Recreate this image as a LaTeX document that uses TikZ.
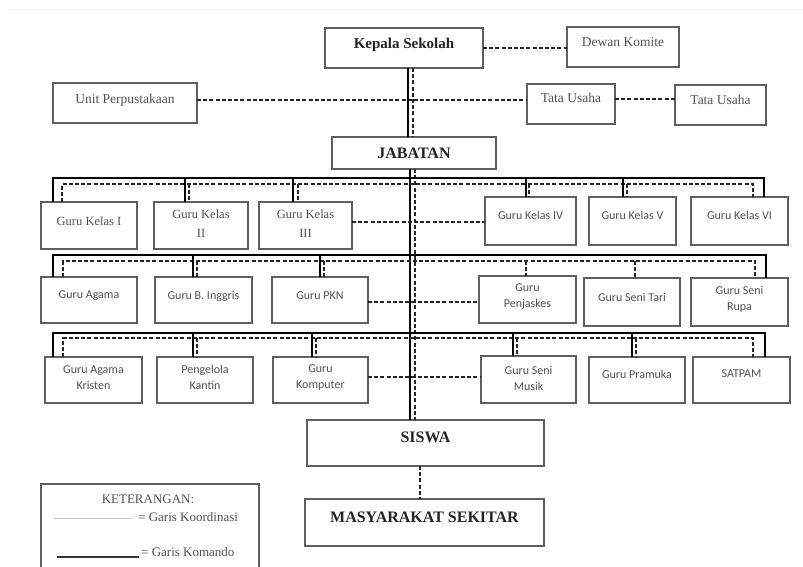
\documentclass[tikz,border=0pt]{standalone}
\usepackage{fontspec}
\setmainfont{Liberation Serif}
\newfontfamily\carlito{Carlito}
\definecolor{boxgray}{RGB}{95,95,95}
\definecolor{txtgray}{RGB}{80,80,80}
\definecolor{txtdark}{RGB}{35,35,35}
\tikzset{
  obox/.style={draw=boxgray, line width=1.3pt, rectangle, inner sep=0pt, outer sep=0pt},
  cmdline/.style={draw=black, line width=1.6pt},
  koordline/.style={draw=black!85, line width=1.4pt, dash pattern=on 4pt off 2.2pt},
  titlefont/.style={font=\bfseries\fontsize{15}{18}\selectfont, text=txtdark},
  bigfont/.style={font=\bfseries\fontsize{16}{19}\selectfont, text=txtdark},
  seriffont/.style={font=\fontsize{13.5}{16}\selectfont, text=txtgray},
  serifsmall/.style={font=\fontsize{12.5}{19}\selectfont, text=txtgray, align=center},
  sansfont/.style={font=\carlito\fontsize{12}{16}\selectfont, text=txtgray, align=center},
}
% name, x1, y1, x2, y2, text style, text shift, text
\newcommand\orgbox[8]{%
  \node[obox, minimum width={#4-#2}, minimum height={#5-#3}] (#1) at ({(#2+#4)/2},{(#3+#5)/2}) {};
  \node[#6, inner sep=0pt] (#1-t) at ([yshift=#7pt]#1.center) {#8};
}
\begin{document}
\begin{tikzpicture}[x=1pt, y=-1pt]
\useasboundingbox (0,0) rectangle (803,566);
\draw[gray!12, line width=0.8pt] (8,9) -- (803,9);

% top level
\orgbox{kep}{325}{28}{483}{68}{titlefont}{3}{Kepala Sekolah}
\orgbox{dew}{567}{27}{679}{67}{seriffont}{5}{Dewan Komite}
\orgbox{up}{53}{83}{197}{123}{seriffont}{3}{Unit Perpustakaan}
\orgbox{tu1}{527}{84}{615}{124}{seriffont}{6}{Tata Usaha}
\orgbox{tu2}{675}{85}{766}{125}{seriffont}{5}{Tata Usaha}
\orgbox{jab}{332}{137}{496}{169}{bigfont}{0}{JABATAN}

% row 1
\orgbox{k1}{41}{202}{137}{249}{serifsmall}{4}{Guru Kelas I}
\orgbox{k2}{154}{202}{248}{249}{serifsmall}{2}{Guru Kelas\\II}
\orgbox{k3}{259}{202}{352}{249}{serifsmall}{2}{Guru Kelas\\III}
\orgbox{k4}{485}{197}{576}{245}{sansfont}{6}{Guru Kelas IV}
\orgbox{k5}{589}{197}{676}{245}{sansfont}{6}{Guru Kelas V}
\orgbox{k6}{691}{197}{788}{245}{sansfont}{6}{Guru Kelas VI}

% row 2
\orgbox{a1}{41}{277}{137}{323}{sansfont}{4}{Guru Agama}
\orgbox{a2}{155}{277}{252}{323}{sansfont}{4}{Guru B. Inggris}
\orgbox{a3}{272}{277}{368}{323}{sansfont}{4}{Guru PKN}
\orgbox{a4}{479}{276}{576}{323}{sansfont}{3}{Guru\\Penjaskes}
\orgbox{a5}{584}{278}{680}{326}{sansfont}{5}{Guru Seni Tari}
\orgbox{a6}{691}{278}{788}{326}{sansfont}{3}{Guru Seni\\Rupa}

% row 3
\orgbox{r1}{45}{357}{142}{403}{sansfont}{2.5}{Guru Agama\\Kristen}
\orgbox{r2}{157}{357}{253}{403}{sansfont}{2.5}{Pengelola\\Kantin}
\orgbox{r3}{273}{357}{368}{403}{sansfont}{2.5}{Guru\\Komputer}
\orgbox{r4}{481}{356}{576}{403}{sansfont}{1}{Guru Seni\\Musik}
\orgbox{r5}{589}{357}{685}{403}{sansfont}{6}{Guru Pramuka}
\orgbox{r6}{693}{357}{790}{403}{sansfont}{6}{SATPAM}

% bottom
\orgbox{sis}{307}{420}{544}{466}{bigfont}{6}{SISWA}
\orgbox{mas}{305}{499}{544}{546}{bigfont}{5}{MASYARAKAT SEKITAR}

% top coordination lines
\draw[koordline] (kep.east |- 0,48) -- (dew.west |- 0,48);
\draw[koordline] (up.east |- 0,100) -- (tu1.west |- 0,100);
\draw[koordline] (tu1.east |- 0,99) -- (tu2.west |- 0,99);

% spine
\draw[cmdline] (408,0 |- kep.south) -- (408,0 |- jab.north);
\draw[koordline] (413,0 |- kep.south) -- (413,0 |- jab.north);
\draw[cmdline] (410,0 |- jab.south) -- (410,0 |- sis.north);
\draw[koordline] (415,0 |- jab.south) -- (415,0 |- sis.north);

% row 1 buses
\draw[cmdline] (53,0 |- k1.north) -- (53,178) -- (764,178) -- (764,0 |- k6.north);
\draw[koordline] (62,0 |- k1.north) -- (62,184) -- (753,184) -- (753,0 |- k6.north);
\draw[cmdline] (185,178) -- (185,0 |- k2.north);
\draw[koordline] (189,184) -- (189,0 |- k2.north);
\draw[cmdline] (293,178) -- (293,0 |- k3.north);
\draw[koordline] (298,184) -- (298,0 |- k3.north);
\draw[cmdline] (526,178) -- (526,0 |- k4.north);
\draw[koordline] (529,184) -- (529,0 |- k4.north);
\draw[cmdline] (623,178) -- (623,0 |- k5.north);
\draw[koordline] (627,184) -- (627,0 |- k5.north);
\draw[koordline] (k3.east |- 0,222) -- (k4.west |- 0,222);

% row 2 buses
\draw[cmdline] (53,0 |- a1.north) -- (53,255) -- (766,255) -- (766,0 |- a6.north);
\draw[koordline] (63,0 |- a1.north) -- (63,261) -- (755,261) -- (755,0 |- a6.north);
\draw[cmdline] (193,255) -- (193,0 |- a2.north);
\draw[koordline] (197,261) -- (197,0 |- a2.north);
\draw[cmdline] (320,255) -- (320,0 |- a3.north);
\draw[koordline] (324,261) -- (324,0 |- a3.north);
\draw[koordline] (526,261) -- (526,0 |- a4.north);
\draw[koordline] (635,261) -- (635,0 |- a5.north);
\draw[koordline] (a3.east |- 0,302) -- (a4.west |- 0,302);

% row 3 buses
\draw[cmdline] (53,0 |- r1.north) -- (53,333) -- (765,333) -- (765,0 |- r6.north);
\draw[koordline] (63,0 |- r1.north) -- (63,338) -- (753,338) -- (753,0 |- r6.north);
\draw[cmdline] (193,333) -- (193,0 |- r2.north);
\draw[koordline] (197,338) -- (197,0 |- r2.north);
\draw[cmdline] (312,333) -- (312,0 |- r3.north);
\draw[koordline] (316,338) -- (316,0 |- r3.north);
\draw[cmdline] (513,333) -- (513,0 |- r4.north);
\draw[koordline] (517,338) -- (517,0 |- r4.north);
\draw[cmdline] (632,333) -- (632,0 |- r5.north);
\draw[koordline] (636,338) -- (636,0 |- r5.north);
\draw[koordline] (r3.east |- 0,377) -- (r4.west |- 0,377);

% siswa to masyarakat
\draw[koordline] (420,0 |- sis.south) -- (420,0 |- mas.north);

% legend
\draw[draw=boxgray, line width=1.3pt] (41,570) -- (41,484) -- (259,484) -- (259,570);
\node[seriffont, font=\fontsize{13}{16}\selectfont, inner sep=0pt] (leg-t) at (148,499) {KETERANGAN:};
\draw[gray!45, line width=0.8pt] (54,518) -- (132,518);
\node[seriffont, font=\fontsize{13}{16}\selectfont, anchor=west, inner sep=0pt] (leg-k) at (138,517) {= Garis Koordinasi};
\draw[black!80, line width=2pt] (57,557) -- (139,557);
\node[seriffont, font=\fontsize{13}{16}\selectfont, anchor=west, inner sep=0pt] (leg-c) at (141,552) {= Garis Komando};
\end{tikzpicture}
\end{document}
